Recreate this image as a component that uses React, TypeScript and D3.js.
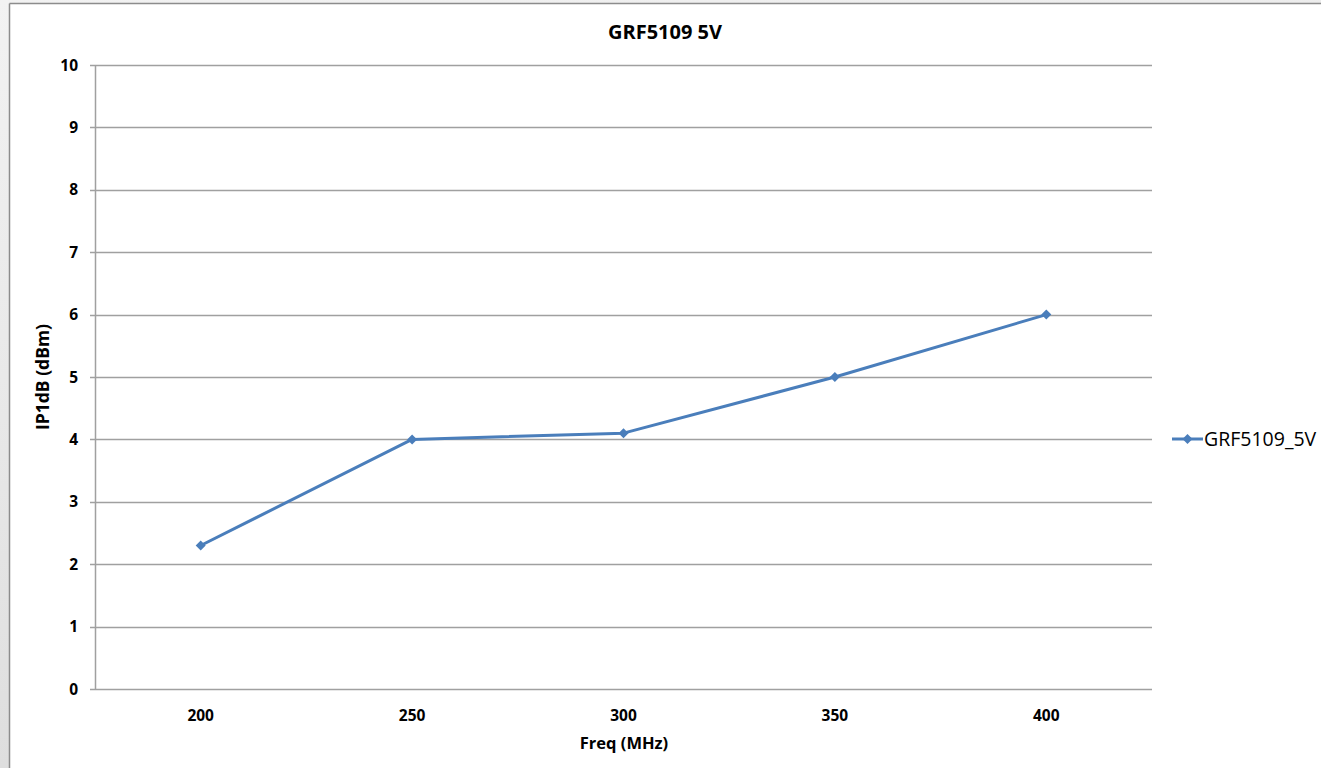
import React from "react";
import * as d3 from "d3";

const categories: string[] = ["200", "250", "300", "350", "400"];
const seriesName = "GRF5109_5V";
const values: number[] = [2.3, 4.0, 4.1, 5.0, 6.0];
const yTicks: number[] = [0, 1, 2, 3, 4, 5, 6, 7, 8, 9, 10];

const W = 1321;
const H = 768;
const margin = { left: 95, right: 1152, top: 65, bottom: 689 };
const font = "'Open Sans', 'Liberation Sans', sans-serif";
const blue = "#4A7EBB";

export default function App() {
  const x = d3.scaleBand<string>().domain(categories).range([margin.left, margin.right]);
  const y = d3.scaleLinear().domain([0, 10]).range([margin.bottom, margin.top]);
  const line = d3
    .line<number>()
    .x((_, i) => (x(categories[i]) as number) + x.bandwidth() / 2)
    .y((d) => y(d));
  const diamond = (cx: number, cy: number, r: number) =>
    `M${cx},${cy - r}L${cx + r},${cy}L${cx},${cy + r}L${cx - r},${cy}Z`;

  return (
    <svg
      width={W}
      height={H}
      style={{ position: "absolute", left: 0, top: 0, display: "block" }}
      fontFamily={font}
    >
      <defs>
        <linearGradient id="bg" x1="0" y1="0" x2="0.3" y2="1">
          <stop offset="0" stopColor="#f2f2f2" />
          <stop offset="0.5" stopColor="#e8e8e8" />
          <stop offset="1" stopColor="#dcdcdc" />
        </linearGradient>
      </defs>
      <rect x={0} y={0} width={W} height={H} fill="url(#bg)" />
      <rect x={10} y={4} width={W} height={H} fill="#ffffff" />
      <line x1={9.5} y1={3.5} x2={9.5} y2={H} stroke="#8c8c8c" strokeWidth={1.5} />
      <line x1={9.5} y1={3.5} x2={W} y2={3.5} stroke="#8c8c8c" strokeWidth={1.5} />

      <text x={665} y={39} textAnchor="middle" fontSize={20} fontWeight="bold" fill="#000">
        GRF5109 5V
      </text>

      {yTicks.map((t) => (
        <g key={t}>
          <line x1={margin.left - 5} x2={margin.right} y1={Math.round(y(t)) + 0.5} y2={Math.round(y(t)) + 0.5} stroke="#a0a0a0" strokeWidth={1.5} />
          <text x={78} y={y(t) + 5.5} textAnchor="end" fontSize={15.5} fontWeight="bold" fill="#000">
            {t}
          </text>
        </g>
      ))}
      <line x1={margin.left + 0.5} x2={margin.left + 0.5} y1={margin.top} y2={margin.bottom} stroke="#a0a0a0" strokeWidth={1.5} />

      {categories.map((c) => (
        <text key={c} x={(x(c) as number) + x.bandwidth() / 2} y={721} textAnchor="middle" fontSize={15.5} fontWeight="bold" fill="#000">
          {c}
        </text>
      ))}

      <text x={624} y={749} textAnchor="middle" fontSize={16.5} fontWeight="bold" fill="#000">
        Freq (MHz)
      </text>
      <text transform={`translate(49,377) rotate(-90)`} textAnchor="middle" fontSize={17.5} fontWeight="bold" fill="#000">
        IP1dB (dBm)
      </text>

      <path d={line(values) as string} fill="none" stroke={blue} strokeWidth={3} strokeLinejoin="round" />
      {values.map((v, i) => (
        <path key={i} d={diamond((x(categories[i]) as number) + x.bandwidth() / 2, y(v), 5)} fill={blue} />
      ))}

      <line x1={1172} x2={1203} y1={439} y2={439} stroke={blue} strokeWidth={3} />
      <path d={diamond(1187.5, 439, 5)} fill={blue} />
      <text x={1204} y={446} fontSize={19.5} fill="#000">
        {seriesName}
      </text>
    </svg>
  );
}
